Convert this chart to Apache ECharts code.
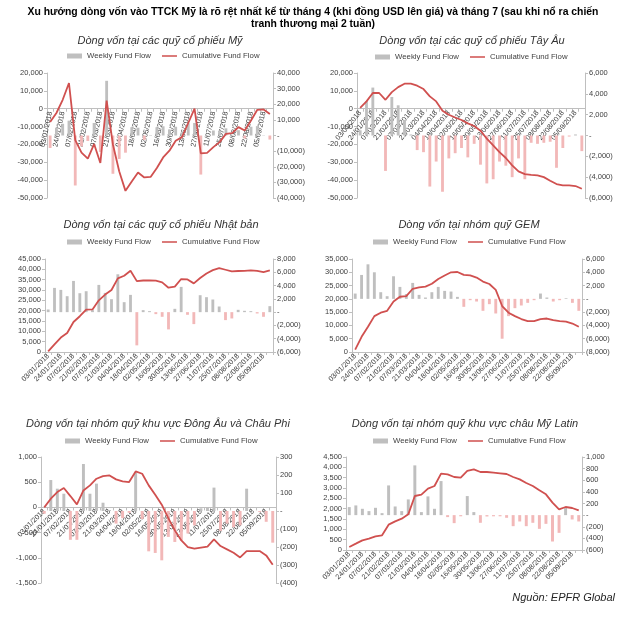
<!DOCTYPE html>
<html><head><meta charset="utf-8">
<script src="https://cdn.jsdelivr.net/npm/echarts@6/dist/echarts.min.js"></script>
<style>html,body{margin:0;padding:0;background:#fff}#c{width:630px;height:625px}</style>
</head><body><div id="c"></div>
<script>
// ---------- DATA ----------
const categories = ['03/01/2018','17/01/2018','24/01/2018','31/01/2018','07/02/2018','14/02/2018','21/02/2018','28/02/2018','07/03/2018','14/03/2018','21/03/2018','28/03/2018','04/04/2018','11/04/2018','18/04/2018','25/04/2018','02/05/2018','09/05/2018','16/05/2018','23/05/2018','30/05/2018','06/06/2018','13/06/2018','20/06/2018','27/06/2018','04/07/2018','11/07/2018','18/07/2018','25/07/2018','01/08/2018','08/08/2018','15/08/2018','22/08/2018','29/08/2018','05/09/2018','12/09/2018'];

const usWeekly = [-8000,5000,7500,9500,-32000,-7000,-3500,8000,-10500,35000,-24500,-15000,-11000,5300,5000,-2800,300,5300,5900,3800,5600,2000,7900,8000,-25000,300,3200,2800,4600,400,3400,-1900,5600,6000,200,-2600];
const usCumulative = [-7500,-2400,5000,14400,-17600,-24600,-28000,-19800,-30400,4500,-20000,-35000,-46000,-40700,-35700,-38500,-38200,-33200,-27300,-23500,-17900,-15900,-8000,0,-25000,-24700,-21500,-18700,-14100,-13700,-10300,-12200,-6600,-600,-400,-3000];

const weWeekly = [500,3300,4600,0,-3400,3700,2900,1500,100,-1400,-1600,-4900,-2500,-5400,-2200,-1700,-1200,-2100,-800,-2800,-4600,-4200,-2500,-2900,-4000,-2200,-4200,-700,-800,-700,-600,-3100,-1200,-100,100,-1500];
const weCumulative = [500,4100,8800,8800,5000,9300,12100,14000,14000,12900,11000,6900,4100,-1100,-3400,-4900,-6300,-8200,-9700,-12300,-16800,-20500,-24300,-27600,-31700,-35100,-36600,-37000,-37300,-38300,-40300,-42200,-42900,-42900,-43300,-44800];

const jpWeekly = [400,3650,3350,2400,4700,2850,3150,300,4100,2900,1950,5700,1500,2600,-5000,300,150,-300,-700,-2600,500,3800,-400,-1800,2550,2250,1900,850,-1200,-950,350,200,150,-200,-700,900];
const jpCumulative = [300,3700,7000,9200,14500,17300,20500,20600,25000,27800,30000,35600,36900,39300,34300,34600,34600,34500,33700,31100,31600,35300,35100,33200,35800,38000,39600,40600,39800,39000,39200,39300,39500,39300,38700,39500];

const gemWeekly = [800,3600,5200,4000,1000,400,3400,1800,720,2400,600,200,1000,1800,1200,1100,300,-1200,-200,-400,-1800,-800,-2200,-6000,-2600,-1400,-1000,-600,-200,800,200,-400,-200,100,-600,-1800];
const gemCumulative = [900,5700,9500,13500,14800,15500,19000,20800,21000,23800,24300,24600,25700,27500,28800,30000,30100,29000,28800,28000,26500,25600,23400,17300,14800,13500,12400,11600,11600,12400,12600,12000,11600,11400,10700,9500];

const eeWeekly = [-15,172,124,96,-160,-160,261,96,152,46,5,-70,-40,-10,213,-45,-224,-233,-274,-144,-172,-163,-125,-80,15,20,130,-110,-70,-90,-80,124,0,-5,-60,-176];
const eeCumulative = [0,172,304,384,225,60,337,437,569,622,635,556,516,503,714,668,437,251,53,-212,-456,-655,-787,-820,-800,-780,-635,-767,-833,-900,-992,-866,-866,-866,-952,-1138];

const laWeekly = [138,167,109,69,126,34,511,149,69,270,856,52,322,109,586,-34,-138,-20,328,52,-132,-23,-20,-20,-46,-190,-109,-190,-132,-236,-150,-454,-305,138,-75,-109];
const laCumulative = [145,306,468,548,661,710,1226,1387,1516,1726,2613,2677,2968,3097,3694,3661,3532,3500,3823,3903,3774,3774,3742,3710,3677,3532,3419,3242,3097,2887,2694,2290,1968,2081,2032,1919];

const mainTitle = ['Xu hướng dòng vốn vào TTCK Mỹ là rõ rệt nhất kể từ tháng 4 (khi đồng USD lên giá) và tháng 7 (sau khi nổ ra chiến', 'tranh thương mại 2 tuần)'];
const panelTitles = ['Dòng vốn tại các quỹ cổ phiếu Mỹ','Dòng vốn tại các quỹ cổ phiếu Tây Âu','Dòng vốn tại các quỹ cổ phiếu Nhật bản','Dòng vốn tại nhóm quỹ GEM','Dòng vốn tại nhóm quỹ khu vực Đông Âu và Châu Phi','Dòng vốn tại nhóm quỹ khu vực châu Mỹ Latin'];
const seriesNames = ['Weekly Fund Flow','Cumulative Fund Flow'];
const sourceText = 'Nguồn: EPFR Global';

// ---------- LAYOUT ----------
const FONT = '"Liberation Sans", Arial, sans-serif';
const GRAY = '#bfbfbf', PINK = '#f2b8b8', RED = '#d0504f', AX = '#bfbfbf', TXT = '#404040';
const LINE_ICON = 'path://M0,0L0.01,0L0.01,0.01Z M0,3.6L30,3.6L30,6.4L0,6.4Z M29.99,10L30,10L30,9.99Z';

const panels = [
  {weekly: usWeekly, cum: usCumulative, tx:160, ty:41, lx:67, ly:57, grid:{left:47, top:73, width:226, height:125},
   L:{min:-50000,max:20000,interval:10000}, R:{min:-40000,max:40000,interval:10000}, rotate:78},
  {weekly: weWeekly, cum: weCumulative, tx:472, ty:41, lx:375, ly:58, grid:{left:357, top:73, width:228, height:125},
   L:{min:-50000,max:20000,interval:10000}, R:{min:-6000,max:6000,interval:2000}, rotate:50},
  {weekly: jpWeekly, cum: jpCumulative, tx:161, ty:225, lx:67, ly:243, grid:{left:45, top:259, width:228, height:93},
   L:{min:0,max:45000,interval:5000}, R:{min:-6000,max:8000,interval:2000}, rotate:45},
  {weekly: gemWeekly, cum: gemCumulative, tx:469, ty:225, lx:373, ly:243, grid:{left:352, top:259, width:230, height:93},
   L:{min:0,max:35000,interval:5000}, R:{min:-8000,max:6000,interval:2000}, rotate:45},
  {weekly: eeWeekly, cum: eeCumulative, tx:158, ty:424, lx:65, ly:442, grid:{left:41, top:457, width:235, height:126},
   L:{min:-1500,max:1000,interval:500}, R:{min:-400,max:300,interval:100}, rotate:45},
  {weekly: laWeekly, cum: laCumulative, tx:465, ty:424, lx:373, ly:442, grid:{left:346, top:457, width:236, height:93},
   L:{min:0,max:4500,interval:500}, R:{min:-600,max:1000,interval:200}, rotate:45}
];

const num = v => Math.abs(v).toLocaleString('en-US');
const leftFmt = v => v < 0 ? '-' + num(v) : num(v);
const rightFmt = v => v === 0 ? '-' : (v < 0 ? '(' + num(v) + ')' : num(v));

const grids = [], xAxes = [], yAxes = [], series = [], legends = [], graphics = [];
const txt = (x, y, text, font, fill, align) => ({type:'text', x:x, y:y, silent:true,
  style:{text:text, font:font, fill:fill, align:align, verticalAlign:'middle', textAlign:align, textVerticalAlign:'middle'}});

graphics.push(txt(313, 12, mainTitle[0], 'bold 10.4px ' + FONT, '#000', 'center'));
graphics.push(txt(313, 24, mainTitle[1], 'bold 10.4px ' + FONT, '#000', 'center'));
graphics.push(txt(615, 598, sourceText, 'italic 11px ' + FONT, '#262626', 'right'));

panels.forEach((p, g) => {
  grids.push(Object.assign({outerBoundsMode:'none', containLabel:false}, p.grid));
  graphics.push(txt(p.tx, p.ty, panelTitles[g], 'italic 11px ' + FONT, '#333', 'center'));
  legends.push({left:p.lx, top:p.ly - 5, padding:0, itemWidth:15, itemHeight:5, itemGap:11, selectedMode:false,
    textStyle:{fontSize:7.8, color:TXT, fontFamily:FONT},
    data:[{name:seriesNames[0], icon:'rect', itemStyle:{color:GRAY}}, {name:seriesNames[1], icon:LINE_ICON, itemStyle:{color:RED}}]});
  // the category axis sits on the left axis' zero line (Excel style)
  const zeroFrac = (0 - p.L.min) / (p.L.max - p.L.min);
  const off = -zeroFrac * p.grid.height;
  xAxes.push({type:'category', gridIndex:g, data:categories, boundaryGap:true, position:'bottom', offset:off,
    axisLine:{show:true, onZero:false, lineStyle:{color:AX, width:1}},
    axisTick:{show:true, interval:0, length:3, lineStyle:{color:AX}},
    axisLabel:{interval:1, rotate:p.rotate, fontSize:7.2, color:TXT, margin:3, fontFamily:FONT},
    splitLine:{show:false}});
  yAxes.push({type:'value', gridIndex:g, position:'left', min:p.L.min, max:p.L.max, interval:p.L.interval,
    splitLine:{show:false}, axisLine:{show:true, lineStyle:{color:AX}},
    axisTick:{show:true, length:3, lineStyle:{color:AX}},
    axisLabel:{formatter:leftFmt, fontSize:7.5, color:TXT, margin:4, fontFamily:FONT}});
  yAxes.push({type:'value', gridIndex:g, position:'right', min:p.R.min, max:p.R.max, interval:p.R.interval,
    splitLine:{show:false}, axisLine:{show:true, lineStyle:{color:AX}},
    axisTick:{show:true, length:3, lineStyle:{color:AX}},
    axisLabel:{formatter:rightFmt, fontSize:7.5, color:TXT, margin:4, fontFamily:FONT}});
  series.push({type:'bar', name:seriesNames[0], xAxisIndex:g, yAxisIndex:2*g+1, barWidth:'45%',
    itemStyle:{color:GRAY},
    data:p.weekly.map(v => v < 0 ? {value:v, itemStyle:{color:PINK}} : v), z:2, silent:true, animation:false});
  series.push({type:'line', name:seriesNames[1], xAxisIndex:g, yAxisIndex:2*g, symbol:'none',
    lineStyle:{color:RED, width:1.8}, itemStyle:{color:RED}, data:p.cum, z:3, silent:true, animation:false});
});

const chart = echarts.init(document.getElementById('c'), null, {renderer:'canvas'});
chart.setOption({
  animation:false,
  backgroundColor:'#fff',
  textStyle:{fontFamily:FONT},
  grid:grids, xAxis:xAxes, yAxis:yAxes, series:series, legend:legends,
  graphic:{elements:graphics}
});
</script>
</body></html>
